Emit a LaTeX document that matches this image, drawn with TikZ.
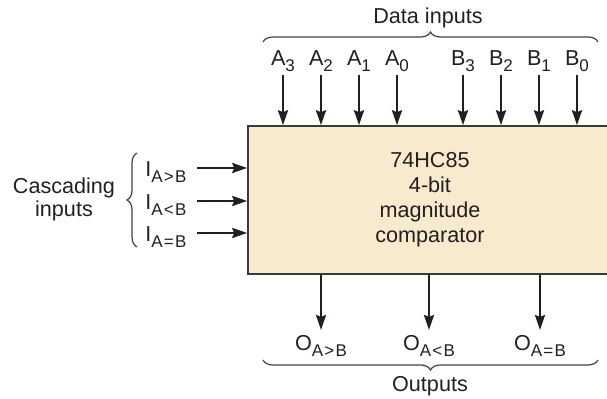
\documentclass[tikz,border=0pt]{standalone}
\usepackage{fontspec}
\setmainfont{Liberation Sans}
\usetikzlibrary{arrows.meta,positioning,calc,decorations.pathreplacing}
\definecolor{Ink}{HTML}{231F20}
\definecolor{ChipFill}{HTML}{F7EACD}
\definecolor{ChipEdge}{HTML}{3A3A3A}
\newcommand{\pinsub}[2]{#1\raisebox{-3pt}{\fontsize{8.5}{9}\selectfont #2}}
\tikzset{
  lbl/.style={font=\fontsize{10.8}{12.5}\selectfont,text=Ink,inner sep=0pt},
  pin/.style={-{Stealth[length=7.5pt,width=5pt,inset=1pt]},Ink,line width=1.2pt},
  grp/.style={decorate,decoration={brace,amplitude=5pt},Ink!85,line width=0.6pt},
  chipbox/.style={draw=ChipEdge,fill=ChipFill,line width=0.8pt,minimum width=182pt,
    minimum height=74pt,inner sep=0pt,align=center},
}

\begin{document}
\begin{tikzpicture}[x=0.5pt,y=-0.5pt]
\useasboundingbox (0,0) rectangle (607,399);
\clip (0,0) rectangle (607,399);
% chip body, cut by the right edge
\node[chipbox,lbl] (chip) at (430,200) {74HC85\\4-bit\\magnitude\\comparator};
% data inputs
\foreach \nm/\x/\ltr/\idx in {a3/283/A/3,a2/321/A/2,a1/359/A/1,a0/397/A/0,
                              b3/463/B/3,b2/501/B/2,b1/539/B/1,b0/577/B/0}{
  \coordinate (\nm) at (\x,75);
  \node[lbl,anchor=base] (\nm-lab) at (\x,66) {\pinsub{\ltr}{\idx}};
  \draw[pin] (\nm) -- (\nm |- chip.north);
}
\coordinate (din-l) at (263,42);
\coordinate (din-r) at (598,42);
\draw[grp] (din-l) -- (din-r);
\node[lbl,anchor=base] (din) at (428,24) {Data inputs};
% cascading inputs
\foreach \nm/\y/\rel in {ig/168/>,il/201/<,ie/233/=}{
  \coordinate (\nm) at (197,\y);
  \node[lbl,anchor=base west] (\nm-lab) at (145,\y+9) {\pinsub{I}{A\kern.6pt\rel\kern.6pt B}};
  \draw[pin] (\nm) -- (\nm -| chip.west);
}
\coordinate (cin-b) at (137,247);
\coordinate (cin-t) at (137,153);
\draw[grp] (cin-b) -- (cin-t);
\node[lbl,align=center,font=\fontsize{10.8}{11.5}\selectfont] (cin) at (64,199) {Cascading\\inputs};
% outputs
\foreach \nm/\x/\rel in {og/321/>,ol/429/<,oe/540/=}{
  \coordinate (\nm) at (\x,330);
  \node[lbl,anchor=base] (\nm-lab) at (\x,351) {\pinsub{O}{A\kern.6pt\rel\kern.6pt B}};
  \draw[pin] (\nm |- chip.south) -- (\nm);
}
\coordinate (out-r) at (598,360);
\coordinate (out-l) at (263,360);
\draw[grp] (out-r) -- (out-l);
\node[lbl,anchor=base] (out) at (430,392) {Outputs};
\end{tikzpicture}
\end{document}
